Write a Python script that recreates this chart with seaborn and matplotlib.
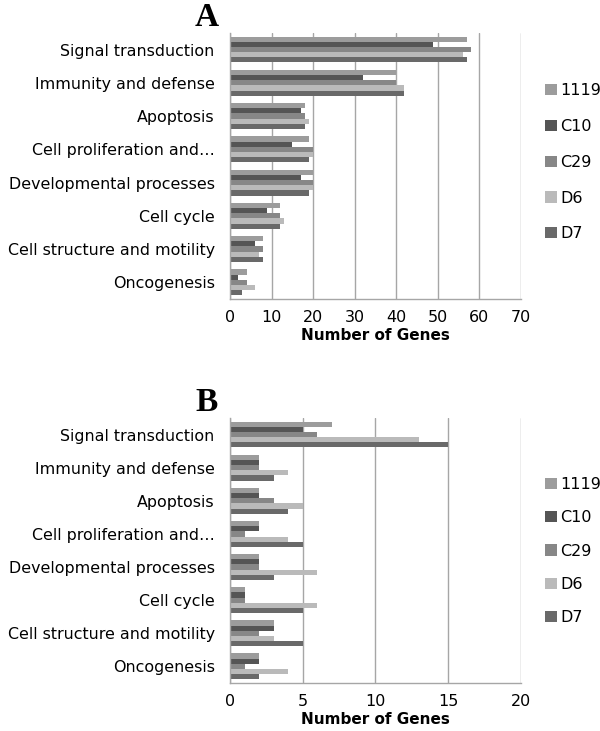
import numpy as np
import pandas as pd
import seaborn as sns
import matplotlib
matplotlib.use("Agg")
import matplotlib.pyplot as plt

# categories and samples
categories = ["Signal transduction", "Immunity and defense", "Apoptosis",
              "Cell proliferation and\u2026", "Developmental processes",
              "Cell cycle", "Cell structure and motility", "Oncogenesis"]
samples = ["1119", "C10", "C29", "D6", "D7"]
colors = ["#9c9c9c", "#555555", "#878787", "#bababa", "#696969"]

# panel A values (per sample, same order as categories)
a_1119 = [57, 40, 18, 19, 20, 12, 8, 4]
a_c10 = [49, 32, 17, 15, 17, 9, 6, 2]
a_c29 = [58, 40, 18, 20, 20, 12, 8, 4]
a_d6 = [56, 42, 19, 20, 20, 13, 7, 6]
a_d7 = [57, 42, 18, 19, 19, 12, 8, 3]

# panel B values
b_1119 = [7, 2, 2, 2, 2, 1, 3, 2]
b_c10 = [5, 2, 2, 2, 2, 1, 3, 2]
b_c29 = [6, 2, 3, 1, 2, 1, 2, 1]
b_d6 = [13, 4, 5, 4, 6, 6, 3, 4]
b_d7 = [15, 3, 4, 5, 3, 5, 5, 2]


def long_df(cols):
    rows = []
    for s, vals in zip(samples, cols):
        for c, v in zip(categories, vals):
            rows.append({"category": c, "sample": s, "count": v})
    return pd.DataFrame(rows)


df_a = long_df([a_1119, a_c10, a_c29, a_d6, a_d7])
df_b = long_df([b_1119, b_c10, b_c29, b_d6, b_d7])

sns.set_style("white")
plt.rcParams["font.family"] = ["DejaVu Sans"]
plt.rcParams["text.color"] = "black"
plt.rcParams["xtick.labelcolor"] = "black"
plt.rcParams["ytick.labelcolor"] = "black"
plt.rcParams["axes.labelcolor"] = "black"

fig = plt.figure(figsize=(6, 7.31), dpi=100)
ax_a = fig.add_axes([0.3833, 0.591, 0.4845, 0.364])
ax_b = fig.add_axes([0.3833, 0.0657, 0.4845, 0.3625])

grid_c = "#a6a6a6"


def draw(ax, df, xmax, step, letter, leg_y, spacing):
    sns.barplot(data=df, y="category", x="count", hue="sample",
                hue_order=samples, order=categories, orient="h",
                palette=colors, saturation=1, width=0.78, ax=ax,
                errorbar=None, linewidth=0)
    ax.set_xlim(0, xmax)
    ax.set_xticks(np.arange(0, xmax + 1, step))
    ax.grid(axis="x", color=grid_c, linewidth=1)
    ax.set_axisbelow(True)
    for s in ["top", "right"]:
        ax.spines[s].set_visible(False)
    for s in ["left", "bottom"]:
        ax.spines[s].set_color(grid_c)
        ax.spines[s].set_linewidth(1)
    ax.tick_params(axis="x", direction="out", length=5, color=grid_c,
                   labelsize=11.5, pad=3)
    ax.tick_params(axis="y", length=0, labelsize=11.4, pad=11)
    ax.set_ylabel("")
    ax.set_xlabel("Number of Genes", fontsize=11, fontweight="bold", labelpad=2)
    ax.legend_.remove()
    handles, labels = ax.get_legend_handles_labels()
    fig.legend(handles, labels, loc="center left",
               bbox_to_anchor=(0.885, leg_y), frameon=False,
               fontsize=11.5, handlelength=0.7, handleheight=0.7,
               handletextpad=0.25, labelspacing=spacing)
    ax.text(-0.08, 1.0, letter, transform=ax.transAxes, ha="center",
            va="bottom", fontsize=24, fontweight="bold",
            family="Liberation Serif")


draw(ax_a, df_a, 70, 10, "A", 0.778, 1.3)
draw(ax_b, df_b, 20, 5, "B", 0.246, 1.15)

fig.savefig("out.png", dpi=100)
